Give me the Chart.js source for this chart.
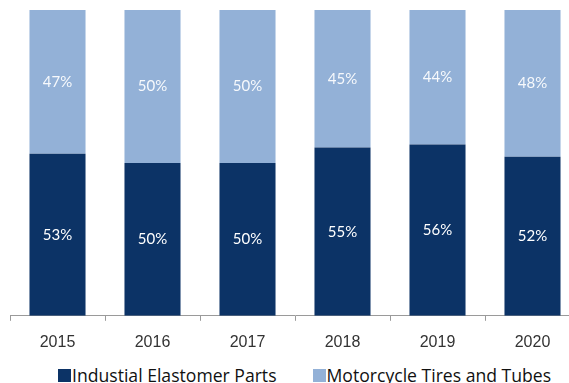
<!DOCTYPE html>
<html>
<head>
<meta charset="utf-8">
<script src="https://cdn.jsdelivr.net/npm/chart.js@4"></script>
<style>
  html, body { margin: 0; padding: 0; background: #fff; overflow: hidden; }
  .chart-wrap { position: relative; width: 580px; height: 364px; }
  .legend { display: flex; align-items: center; width: 620px; height: 16px; padding-top: 3px; padding-left: 58px;
            white-space: nowrap;
            font-family: "Open Sans", "DejaVu Sans", sans-serif; font-size: 17.6px; color: #111; }
  .legend-item { display: flex; align-items: center; margin-right: 36px; flex: none; }
  .legend-box { width: 13px; height: 13px; margin-right: 1px; }
</style>
</head>
<body>
<div class="chart-wrap"><canvas id="share-chart"></canvas></div>
<div class="legend" id="share-legend"></div>

<script>
const years = ["2015", "2016", "2017", "2018", "2019", "2020"];
const industrialShare = [53, 50, 50, 55, 56, 52];
const motorcycleShare = [47, 50, 50, 45, 44, 48];
const seriesNames = ["Industial Elastomer Parts", "Motorcycle Tires and Tubes"];
const seriesColors = ["#0c3366", "#93b1d7"];

// writes the % value in the middle of each stacked segment
const segmentLabels = {
    id: "segmentLabels",
    afterDatasetsDraw(chart) {
        const ctx = chart.ctx;
        ctx.save();
        ctx.font = "15px Lato, 'DejaVu Sans', sans-serif";
        ctx.textAlign = "center";
        ctx.textBaseline = "middle";
        chart.data.datasets.forEach((ds, i) => {
            const meta = chart.getDatasetMeta(i);
            ctx.fillStyle = i === 0 ? "#ffffff" : "rgba(255,255,255,0.92)";
            meta.data.forEach((bar, j) => {
                const y = (bar.y + bar.base) / 2;
                ctx.fillText(`${ds.data[j]}%`, bar.x, y);
            });
        });
        ctx.restore();
    }
};

const chartCtx = document.getElementById("share-chart");

new Chart(chartCtx, {
    type: "bar",
    data: {
        labels: years,
        datasets: [
            { label: seriesNames[0], data: industrialShare, backgroundColor: seriesColors[0] },
            { label: seriesNames[1], data: motorcycleShare, backgroundColor: seriesColors[1] }
        ]
    },
    options: {
        responsive: true,
        maintainAspectRatio: false,
        animation: false,
        layout: { padding: { left: 10, top: 10, right: 0, bottom: 0 } },
        datasets: {
            bar: { categoryPercentage: 1, barPercentage: 0.59 }
        },
        scales: {
            x: {
                stacked: true,
                border: { display: true, color: "#9a9a9a", width: 1 },
                grid: { drawOnChartArea: false, drawTicks: true, tickLength: 5, color: "#9a9a9a" },
                ticks: {
                    color: "#333",
                    padding: 12,
                    font: { family: "'Liberation Sans', Arial, sans-serif", size: 16 }
                }
            },
            y: {
                stacked: true,
                display: false,
                min: 0,
                max: 100
            }
        },
        plugins: {
            legend: { display: false },
            tooltip: { enabled: false }
        }
    },
    plugins: [segmentLabels]
});

// legend drawn as plain html under the canvas
const legendEl = document.getElementById("share-legend");
seriesNames.forEach((name, i) => {
    const item = document.createElement("div");
    item.classList.add("legend-item");
    const box = document.createElement("span");
    box.classList.add("legend-box");
    box.style.background = seriesColors[i];
    const text = document.createElement("span");
    text.textContent = name;
    item.appendChild(box);
    item.appendChild(text);
    legendEl.appendChild(item);
});
</script>
</body>
</html>
